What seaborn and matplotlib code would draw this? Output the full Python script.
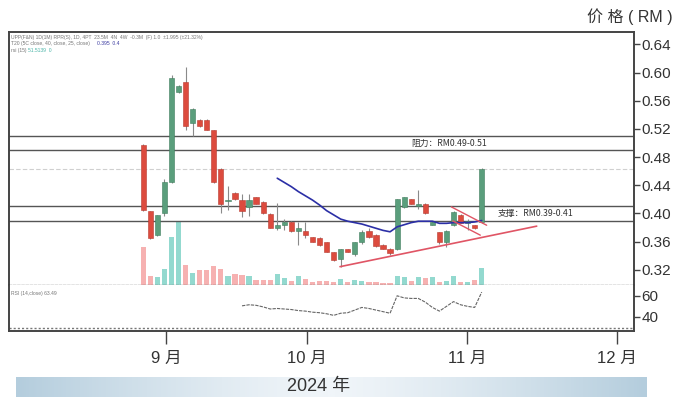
import numpy as np
import matplotlib
matplotlib.use("Agg")
import matplotlib.pyplot as plt
import seaborn as sns
from matplotlib.colors import LinearSegmentedColormap

# ---------------- data ----------------
opens  = [0.497, 0.403, 0.369, 0.400, 0.444, 0.572, 0.587, 0.528, 0.533, 0.533,
          0.518, 0.463, 0.417, 0.429, 0.419, 0.409, 0.423, 0.416, 0.399, 0.380,
          0.383, 0.388, 0.375, 0.375, 0.366, 0.365, 0.359, 0.345, 0.335, 0.349,
          0.343, 0.360, 0.375, 0.370, 0.355, 0.350, 0.349, 0.409, 0.420, 0.410,
          0.414, 0.384, 0.373, 0.360, 0.383, 0.398, 0.387, 0.383, 0.388]
highs  = [0.498, 0.404, 0.398, 0.449, 0.596, 0.582, 0.608, 0.549, 0.534, 0.534,
          0.519, 0.464, 0.439, 0.430, 0.428, 0.428, 0.424, 0.417, 0.400, 0.415,
          0.392, 0.389, 0.388, 0.388, 0.367, 0.366, 0.360, 0.346, 0.350, 0.350,
          0.360, 0.377, 0.379, 0.371, 0.356, 0.351, 0.421, 0.424, 0.421, 0.434,
          0.415, 0.389, 0.374, 0.376, 0.403, 0.399, 0.392, 0.384, 0.465]
lows   = [0.404, 0.364, 0.368, 0.396, 0.443, 0.571, 0.518, 0.510, 0.523, 0.518,
          0.443, 0.400, 0.405, 0.419, 0.395, 0.397, 0.413, 0.399, 0.379, 0.376,
          0.376, 0.374, 0.355, 0.365, 0.359, 0.354, 0.345, 0.332, 0.324, 0.345,
          0.340, 0.357, 0.365, 0.353, 0.349, 0.341, 0.348, 0.408, 0.413, 0.407,
          0.399, 0.383, 0.357, 0.353, 0.382, 0.386, 0.376, 0.378, 0.387]
closes = [0.405, 0.365, 0.398, 0.444, 0.592, 0.581, 0.524, 0.548, 0.524, 0.519,
          0.444, 0.413, 0.419, 0.420, 0.403, 0.419, 0.414, 0.400, 0.380, 0.384,
          0.388, 0.375, 0.380, 0.370, 0.360, 0.355, 0.346, 0.334, 0.349, 0.346,
          0.359, 0.374, 0.366, 0.354, 0.350, 0.344, 0.420, 0.423, 0.414, 0.414,
          0.400, 0.388, 0.360, 0.375, 0.402, 0.387, 0.389, 0.379, 0.463]
volumes = [19, 4.5, 4, 8, 24, 32, 10, 6, 7.5, 7.5, 9.5, 8, 4.5, 5.5, 5, 4.5,
           2.5, 2.5, 2.5, 5.5, 3.5, 2, 4.5, 3, 1.5, 2, 2, 1.5, 3, 1.5, 2.5, 2,
           1.5, 1.5, 1, 1, 4.5, 4, 2, 4, 3.5, 4, 1.5, 2, 4.5, 1.5, 1.5, 2.5, 8.5]

ma_start = 19
ma_values = [0.450, 0.444, 0.438, 0.431, 0.425, 0.419, 0.412, 0.404, 0.398,
             0.392, 0.389, 0.387, 0.385, 0.382, 0.379, 0.376, 0.374, 0.381,
             0.384, 0.387, 0.389, 0.389, 0.389, 0.386, 0.386, 0.387, 0.387,
             0.387, 0.388, 0.390]

rsi_start = 14
rsi_values = [50.5, 51.5, 51, 49.5, 47.5, 48, 47.5, 47, 46, 45.5, 44.5, 44,
              43, 41.5, 43.5, 44, 46.5, 49, 48, 46.5, 45, 43.5, 60, 58, 57.5,
              57.5, 54, 49, 45.5, 50, 54.5, 51.5, 50, 49, 63.5]

resistance = [0.49, 0.51]
support = [0.39, 0.41]
last_price = 0.463
uptrend_x, uptrend_y = [27.9, 55.8], [0.3245, 0.382]
flag_up_x, flag_up_y = [43.7, 48.7], [0.4093, 0.3833]
flag_lo_x, flag_lo_y = [43.9, 47.8], [0.3894, 0.3692]

month_pos = [3.2, 23.2, 45.9, 67.2]
month_labels = ["9 月", "10 月", "11 月", "12 月"]
price_ticks = [0.32, 0.36, 0.40, 0.44, 0.48, 0.52, 0.56, 0.60, 0.64]
rsi_ticks = [40, 60]

# ---------------- style ----------------
sns.set_theme(style="white")
plt.rcParams["font.family"] = ["Liberation Sans", "Noto Sans CJK SC", "DejaVu Sans"]

RED, GREEN = "#dc4b3e", "#5a9e7c"
PINK, TEAL = "#f6b1b1", "#93d9cf"
FRAME = "#444444"

fig = plt.figure(figsize=(6.9, 4.04), dpi=100)
ax = fig.add_axes([0.01304, 0.29455, 0.90580, 0.62624])
axr = fig.add_axes([0.01304, 0.18069, 0.90580, 0.11386])

xlim = (-19.05, 69.6)
idx = np.arange(len(opens))
o, h, l, c = map(np.array, (opens, highs, lows, closes))
up = c >= o

# volume on twin axis, behind price marks
axv = ax.twinx()
axv.bar(idx, volumes, width=0.74, color=np.where(up, TEAL, PINK), linewidth=0)
axv.set_ylim(0, 126.5)
axv.set_yticks([])
for s in axv.spines.values():
    s.set_visible(False)
axv.set_zorder(ax.get_zorder() - 1)
ax.patch.set_visible(False)

# horizontal levels
for lv in resistance + support:
    ax.axhline(lv, color="#555555", lw=1.0, zorder=1)
ax.axhline(last_price, color="#d0d0d0", lw=0.8, ls=(0, (4, 2)), zorder=1)

# candles
ax.vlines(idx, l, h, colors="#8a8a8a", lw=0.8, zorder=2)
bottoms = np.minimum(o, c)
heights = np.maximum(np.abs(c - o), 0.0018)
ax.bar(idx, heights, bottom=bottoms, width=0.74,
       color=np.where(up, GREEN, RED),
       edgecolor=np.where(up, "#3f7d5d", "#b83a30"), linewidth=0.4, zorder=3)

# moving average
sns.lineplot(x=np.arange(ma_start, ma_start + len(ma_values)), y=ma_values,
             ax=ax, color="#2b2fa6", lw=1.2, zorder=4)

# trend lines
tl = "#e05565"
ax.plot(uptrend_x, uptrend_y, color=tl, lw=1.2, zorder=4)
ax.plot(flag_up_x, flag_up_y, color=tl, lw=1.0, zorder=4)
ax.plot(flag_lo_x, flag_lo_y, color=tl, lw=1.0, zorder=4)

ax.text(43.4, np.mean(resistance), "阻力：RM0.49-0.51",
        fontsize=6.3, color="#333333", ha="center", va="center",
        family=["Noto Sans CJK SC", "DejaVu Sans"], zorder=5)
ax.text(50.3, np.mean(support), "支撑：RM0.39-0.41",
        fontsize=6.3, color="#333333", ha="left", va="center",
        family=["Noto Sans CJK SC", "DejaVu Sans"], zorder=5,
        bbox=dict(facecolor="white", edgecolor="none", pad=0.5))

# header info texts
ax.text(0.003, 0.988, "UPP(F&N) 1D(1M) RPR(S), 1D, 4PT  23.5M  4N  4W  -0.3M  (F) 1.0  ±1.995 (±21.32%)",
        transform=ax.transAxes, fontsize=3.6, color="#777777", va="top")
ax.text(0.003, 0.963, "T20 (5C close, 40, close, 25, close)",
        transform=ax.transAxes, fontsize=3.6, color="#777777", va="top")
ax.text(0.141, 0.963, "0.395  0.4", transform=ax.transAxes, fontsize=3.6,
        color="#3a3aa0", va="top")
ax.text(0.003, 0.937, "rsi (15)", transform=ax.transAxes, fontsize=3.6,
        color="#777777", va="top")
ax.text(0.030, 0.937, "51.5139  0", transform=ax.transAxes, fontsize=3.6,
        color="#4cb5a8", va="top")

ax.set_xlim(xlim)
ax.set_ylim(0.2985, 0.6575)
ax.set_xticks([])
ax.yaxis.tick_right()
ax.set_yticks(price_ticks)
ax.set_yticklabels([f"{t:.2f}" for t in price_ticks])
ax.tick_params(axis="y", right=True, length=4.5, width=1.0, color=FRAME,
               labelsize=11, labelcolor="#333333", pad=1)
for side in ("left", "top", "right"):
    ax.spines[side].set_color(FRAME)
    ax.spines[side].set_linewidth(1.4)
ax.spines["bottom"].set_color("#777777")
ax.spines["bottom"].set_linewidth(1.0)
ax.spines["bottom"].set_linestyle((0, (1.5, 1.5)))

# RSI panel
sns.lineplot(x=np.arange(rsi_start, rsi_start + len(rsi_values)), y=rsi_values,
             ax=axr, color="#666666", lw=0.8, ls=(0, (3, 1)))
axr.plot([0, 1], [0.065, 0.065], transform=axr.transAxes, color="#777777",
         lw=1.0, ls=(0, (1.5, 1.5)))
axr.text(0.004, 0.86, "RSI (14,close) 63.49", transform=axr.transAxes,
         fontsize=3.6, color="#777777", va="top")
axr.set_xlim(xlim)
axr.set_ylim(26.7, 70.2)
axr.yaxis.tick_right()
axr.set_yticks(rsi_ticks)
axr.set_yticklabels([str(t) for t in rsi_ticks])
axr.tick_params(axis="y", right=True, length=4.5, width=1.0, color=FRAME,
                labelsize=11, labelcolor="#333333", pad=1)
axr.set_xticks(month_pos)
axr.set_xticklabels(month_labels)
axr.tick_params(axis="x", bottom=True, length=9.4, width=1.0, color=FRAME,
                labelsize=12, labelcolor="#333333", pad=5)
axr.set_xlabel("")
axr.set_ylabel("")
ax.set_ylabel("")
for side in ("left", "bottom", "right"):
    axr.spines[side].set_color(FRAME)
    axr.spines[side].set_linewidth(1.4)
axr.spines["top"].set_visible(False)

# title at top right
fig.text(0.913, 0.958, "价 格 ( RM )", fontsize=11.5, color="#333333",
         ha="center", va="center")

# year banner with gradient
axb = fig.add_axes([0.0226, 0.01807, 0.9136, 0.0495])
cmap = LinearSegmentedColormap.from_list("band", ["#f0f5f9", "#b4cddd"])
grad = np.abs(np.linspace(-1, 1, 300))[None, :] ** 1.3
axb.imshow(grad, aspect="auto", cmap=cmap, extent=(0, 1, 0, 1))
axb.set_axis_off()
axb.text(0.48, 0.5, "2024 年", fontsize=13, color="#333333",
         ha="center", va="center", transform=axb.transAxes)

fig.savefig("out.png", dpi=100)
